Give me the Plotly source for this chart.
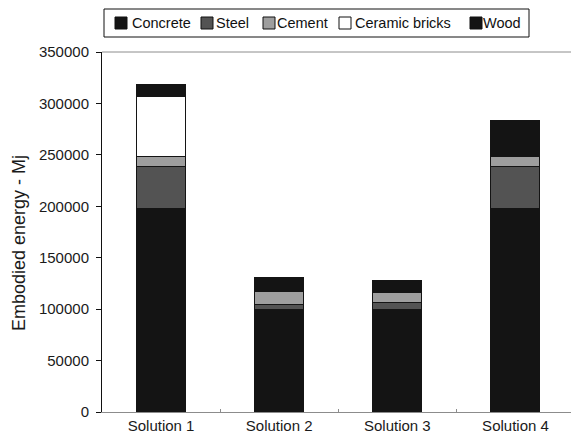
import plotly.graph_objects as go

# Embodied energy (MJ) per material for each design solution
solutions = ["Solution 1", "Solution 2", "Solution 3", "Solution 4"]
concrete = [197500, 100000, 100000, 197500]
steel = [41500, 5000, 6000, 41500]
cement = [9000, 12600, 10000, 9000]
ceramic_bricks = [59000, 0, 0, 0]
wood = [11000, 12700, 12300, 35000]

y_ticks = [0, 50000, 100000, 150000, 200000, 250000, 300000, 350000]

series = [
    ("Concrete", concrete, "#141414"),
    ("Steel", steel, "#535353"),
    ("Cement", cement, "#9e9e9e"),
    ("Ceramic bricks", ceramic_bricks, "#ffffff"),
    ("Wood", wood, "#141414"),
]

W, H = 571, 436
L, R, T, B = 102, 571, 52, 412
FONT = "Liberation Sans, Arial, Helvetica, sans-serif"


def fx(px):
    """Pixel x -> paper x."""
    return (px - L) / (R - L)


def fy(py):
    """Pixel y -> paper y."""
    return (B - py) / (B - T)


fig = go.Figure()
for name, vals, color in series:
    fig.add_trace(go.Bar(
        x=solutions, y=vals, name=name, width=0.415,
        marker=dict(color=color, line=dict(color="#141414", width=1)),
        showlegend=False,
    ))

# Top frame line of the plot area
shapes = [dict(type="line", xref="paper", yref="paper",
               x0=0, x1=1, y0=1, y1=1, line=dict(color="#8c8c8c", width=1))]

# Legend box with swatches and labels
shapes.append(dict(type="rect", xref="paper", yref="paper",
                   x0=fx(104), x1=fx(529), y0=fy(37), y1=fy(9),
                   line=dict(color="#111111", width=1), fillcolor="white", layer="above"))
annotations = []
swatch_x = [115, 201, 263, 339, 470]
label_x = [130, 214, 275, 353, 481]
for (name, _, color), sx, lx in zip(series, swatch_x, label_x):
    shapes.append(dict(type="rect", xref="paper", yref="paper",
                       x0=fx(sx), x1=fx(sx + 12), y0=fy(29), y1=fy(17),
                       line=dict(color="#111111", width=1), fillcolor=color, layer="above"))
    annotations.append(dict(text=name, xref="paper", yref="paper",
                            x=fx(lx), y=fy(23), xanchor="left", yanchor="middle",
                            showarrow=False, font=dict(family=FONT, size=14.5, color="#111111")))

annotations.append(dict(text="Embodied energy - Mj", xref="paper", yref="paper",
                        x=fx(19), y=fy(243), textangle=-90, xanchor="center", yanchor="middle",
                        showarrow=False, font=dict(family=FONT, size=18, color="#1a1a1a")))

fig.update_layout(
    width=W, height=H,
    margin=dict(l=L, r=W - R, t=T, b=H - B, pad=0),
    barmode="stack",
    plot_bgcolor="white", paper_bgcolor="white",
    font=dict(family=FONT, size=15, color="#1a1a1a"),
    shapes=shapes, annotations=annotations,
    showlegend=False,
)
fig.update_xaxes(
    type="category", range=[-0.5, 3.47],
    showline=True, linecolor="#8c8c8c", linewidth=1, mirror=False,
    ticks="inside", tickson="boundaries", ticklen=3, tickcolor="#8c8c8c",
    showgrid=False, zeroline=False,
)
fig.update_yaxes(
    range=[0, 350000], tickvals=y_ticks, tickformat="d",
    showline=True, linecolor="#111111", linewidth=1,
    ticks="outside", ticklen=5, tickcolor="#111111",
    ticklabelstandoff=4,
    showgrid=False, zeroline=False,
)

fig.write_html("out.html")
